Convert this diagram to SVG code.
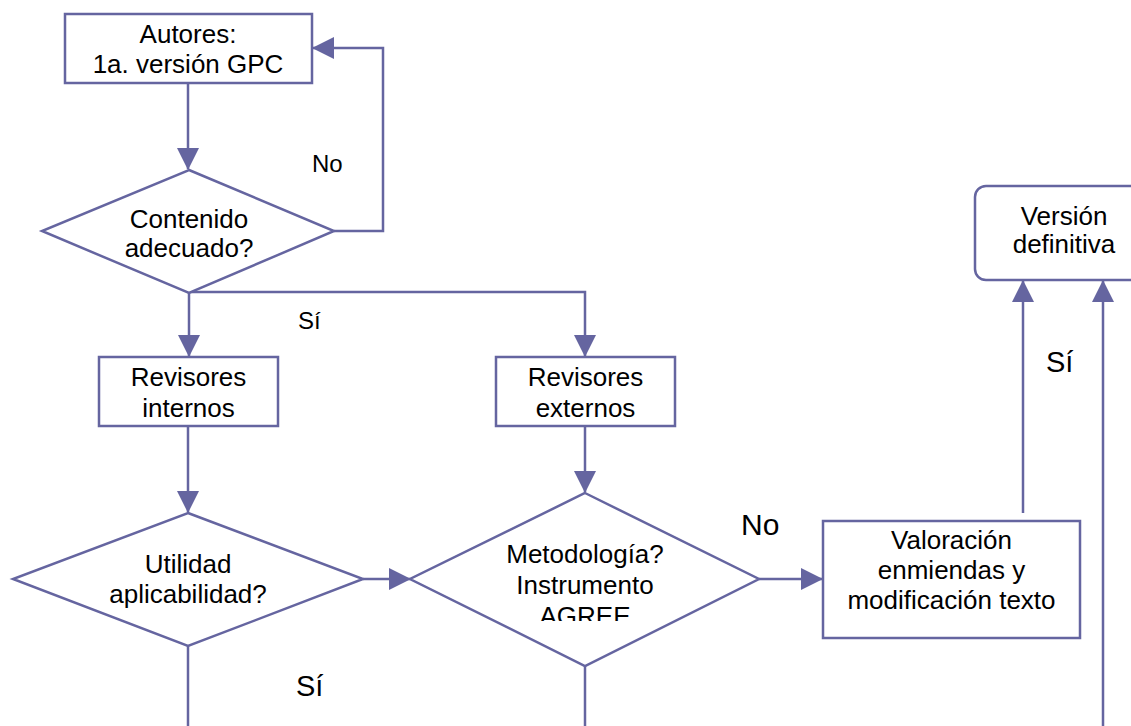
<svg xmlns="http://www.w3.org/2000/svg" width="1131" height="726" viewBox="0 0 1131 726">
<style>
.shape{fill:#ffffff;stroke:#6565a0;stroke-width:2.5}
.line{fill:none;stroke:#6565a0;stroke-width:2.5}
.t{font-family:"Liberation Sans",Arial,sans-serif;font-size:26px;fill:#000000;text-anchor:middle}
.lbl{font-family:"Liberation Sans",Arial,sans-serif;fill:#000000}
</style>
<defs>
<marker id="arr" markerUnits="userSpaceOnUse" viewBox="0 0 22 22" refX="21" refY="11" markerWidth="22" markerHeight="22" orient="auto">
<path d="M0,0 L22,11 L0,22 Z" fill="#6565a0"/>
</marker>
<clipPath id="clipAgree"><rect x="400" y="540" width="380" height="81"/></clipPath>
</defs>
<rect width="1131" height="726" fill="#ffffff"/>
<g id="connectors">
<path class="line" d="M188,83 L188,169" marker-end="url(#arr)"/>
<path class="line" d="M334,231 L383,231 L383,48 L313,48" marker-end="url(#arr)"/>
<path class="line" d="M189,292 L189,356" marker-end="url(#arr)"/>
<path class="line" d="M189,292 L585,292 L585,356" marker-end="url(#arr)"/>
<path class="line" d="M188,426 L188,512" marker-end="url(#arr)"/>
<path class="line" d="M585,426 L585,492" marker-end="url(#arr)"/>
<path class="line" d="M363,579 L410,579" marker-end="url(#arr)"/>
<path class="line" d="M759,579 L822,579" marker-end="url(#arr)"/>
<path class="line" d="M188,646 L188,726"/>
<path class="line" d="M585,658 L585,726"/>
<path class="line" d="M1023,513 L1023,281" marker-end="url(#arr)"/>
<path class="line" d="M1103,726 L1103,281" marker-end="url(#arr)"/>
</g>
<g id="autores">
<rect class="shape" x="65" y="14" width="247" height="69"/>
<text class="t" x="188" y="43">Autores:</text>
<text class="t" x="188" y="73">1a. versión GPC</text>
</g>
<g id="contenido">
<polygon class="shape" points="189,170 334,231 189,293 42,231"/>
<text class="t" x="189" y="228">Contenido</text>
<text class="t" x="189" y="257">adecuado?</text>
</g>
<g id="internos">
<rect class="shape" x="99" y="357" width="179" height="69"/>
<text class="t" x="188.5" y="386">Revisores</text>
<text class="t" x="188.5" y="417">internos</text>
</g>
<g id="externos">
<rect class="shape" x="496" y="357" width="179" height="69"/>
<text class="t" x="585.5" y="386">Revisores</text>
<text class="t" x="585.5" y="417">externos</text>
</g>
<g id="utilidad">
<polygon class="shape" points="188,513 363,579 188,646 13,579"/>
<text class="t" x="188" y="573">Utilidad</text>
<text class="t" x="188" y="603">aplicabilidad?</text>
</g>
<g id="metodologia">
<polygon class="shape" points="585,493 759,579 585,666 410,579"/>
<text class="t" x="585" y="563">Metodología?</text>
<text class="t" x="585" y="594">Instrumento</text>
<text class="t" x="585" y="625" clip-path="url(#clipAgree)">AGREE</text>
</g>
<g id="valoracion">
<rect class="shape" x="823" y="521" width="257" height="117"/>
<text class="t" x="951.5" y="549">Valoración</text>
<text class="t" x="951.5" y="579">enmiendas y</text>
<text class="t" x="951.5" y="609">modificación texto</text>
</g>
<g id="version">
<rect class="shape" x="975" y="186" width="200" height="94" rx="11" ry="11"/>
<text class="t" x="1064" y="225">Versión</text>
<text class="t" x="1064" y="253">definitiva</text>
</g>
<g id="labels">
<text class="lbl" x="312" y="172" font-size="24">No</text>
<text class="lbl" x="298" y="329" font-size="24">Sí</text>
<text class="lbl" x="741" y="535" font-size="30">No</text>
<text class="lbl" x="296" y="696" font-size="29">Sí</text>
<text class="lbl" x="1046" y="372" font-size="29">Sí</text>
</g>
</svg>
